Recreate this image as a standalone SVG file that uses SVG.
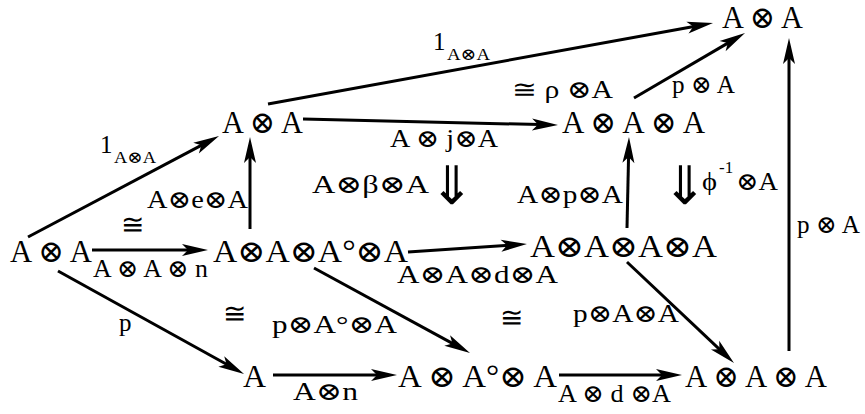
<svg xmlns="http://www.w3.org/2000/svg" width="865" height="414" viewBox="0 0 865 414">
  <style>
    text { font-family: "Liberation Serif", "DejaVu Serif", serif; fill: #000; }
    .obj { font-size: 31px; }
    .lbl { font-size: 25px; }
    .sub { font-size: 17px; }
    .iso { font-size: 28px; font-family: "DejaVu Serif", serif; text-anchor: middle; }
    .cell { font-size: 53px; font-family: "DejaVu Sans", sans-serif; text-anchor: middle; }
    .edge { fill: none; stroke: #000; stroke-width: 3; marker-end: url(#head); }
  </style>
  <defs>
    <marker id="head" markerUnits="userSpaceOnUse" markerWidth="30" markerHeight="16" refX="0" refY="0" orient="auto" overflow="visible">
      <path d="M18,0 L-8,-6 L-2,0 L-8,6 Z" fill="#000"/>
    </marker>
  </defs>

  <!-- connectors -->
  <g id="connectors">
    <path class="edge" d="M268,104 L695.3,26.2"/>
    <path class="edge" d="M303,119 L540,124.6"/>
    <path class="edge" d="M634,98 L729.5,42.1"/>
    <path class="edge" d="M789,351 L789,56"/>
    <path class="edge" d="M28,237 L203.1,144.4"/>
    <path class="edge" d="M250,229 L250,155"/>
    <path class="edge" d="M92,250 L190,250"/>
    <path class="edge" d="M58,271 L228.3,365.3"/>
    <path class="edge" d="M273,375 L379,375"/>
    <path class="edge" d="M408,252 L509,245.2"/>
    <path class="edge" d="M314,268 L454.2,344.4"/>
    <path class="edge" d="M627,228 L628.6,155"/>
    <path class="edge" d="M627,262 L720.9,350.6"/>
    <path class="edge" d="M559,375 L664,375"/>
  </g>

  <!-- objects -->
  <g id="n-top"><text class="obj" x="722" y="28" textLength="81" lengthAdjust="spacingAndGlyphs">A ⊗ A</text></g>
  <g id="n-aa-upper"><text class="obj" x="222" y="133" textLength="81" lengthAdjust="spacingAndGlyphs">A ⊗ A</text></g>
  <g id="n-aaa-upper"><text class="obj" x="562" y="133" textLength="143" lengthAdjust="spacingAndGlyphs">A ⊗ A ⊗ A</text></g>
  <g id="n-aa-left"><text class="obj" x="10" y="262" textLength="82" lengthAdjust="spacingAndGlyphs">A ⊗ A</text></g>
  <g id="n-aaoa"><text class="obj" x="213" y="262" textLength="195" lengthAdjust="spacingAndGlyphs">A⊗A⊗A°⊗A</text></g>
  <g id="n-aaaa"><text class="obj" x="530" y="257" textLength="187" lengthAdjust="spacingAndGlyphs">A⊗A⊗A⊗A</text></g>
  <g id="n-a"><text class="obj" x="243" y="387" textLength="23" lengthAdjust="spacingAndGlyphs">A</text></g>
  <g id="n-aoa"><text class="obj" x="398" y="387" textLength="159" lengthAdjust="spacingAndGlyphs">A ⊗ A°⊗ A</text></g>
  <g id="n-aaa-lower"><text class="obj" x="685" y="387" textLength="142" lengthAdjust="spacingAndGlyphs">A ⊗ A ⊗ A</text></g>

  <!-- arrow labels -->
  <g id="labels">
    <text class="lbl" x="433" y="50" font-size="26">1</text>
    <text class="sub" x="447" y="60" textLength="43" lengthAdjust="spacingAndGlyphs">A⊗A</text>
    <text class="lbl" x="100" y="153" font-size="26">1</text>
    <text class="sub" x="114" y="163" textLength="42" lengthAdjust="spacingAndGlyphs">A⊗A</text>
    <text class="lbl" x="390" y="147" textLength="108" lengthAdjust="spacingAndGlyphs">A ⊗ j⊗A</text>
    <text class="lbl" x="147" y="208" textLength="101" lengthAdjust="spacingAndGlyphs">A⊗e⊗A</text>
    <text class="lbl" x="93" y="277" textLength="115" lengthAdjust="spacingAndGlyphs">A ⊗ A ⊗ n</text>
    <text class="lbl" x="512" y="98" font-size="27" textLength="101" lengthAdjust="spacingAndGlyphs">≅ ρ ⊗A</text>
    <text class="lbl" x="672" y="93" textLength="63" lengthAdjust="spacingAndGlyphs">p ⊗ A</text>
    <text class="lbl" x="517" y="203" textLength="106" lengthAdjust="spacingAndGlyphs">A⊗p⊗A</text>
    <text class="lbl" x="797" y="233" textLength="63" lengthAdjust="spacingAndGlyphs">p ⊗ A</text>
    <text class="lbl" x="397" y="283" textLength="161" lengthAdjust="spacingAndGlyphs">A⊗A⊗d⊗A</text>
    <text class="lbl" x="119" y="331" font-size="27">p</text>
    <text class="lbl" x="272" y="333" textLength="125" lengthAdjust="spacingAndGlyphs">p⊗A°⊗A</text>
    <text class="lbl" x="573" y="322" textLength="106" lengthAdjust="spacingAndGlyphs">p⊗A⊗A</text>
    <text class="lbl" x="293" y="400" font-size="26" textLength="65" lengthAdjust="spacingAndGlyphs">A⊗n</text>
    <text class="lbl" x="558" y="402" textLength="113" lengthAdjust="spacingAndGlyphs">A ⊗ d ⊗A</text>
    <!-- isomorphism marks -->
    <text class="iso" x="132" y="234">≅</text>
    <text class="iso" x="234" y="323">≅</text>
    <text class="iso" x="511" y="327">≅</text>
  </g>

  <!-- 2-cells -->
  <g id="cell-beta">
    <text class="lbl" x="312" y="193" font-size="28" textLength="117" lengthAdjust="spacingAndGlyphs">A⊗β⊗A</text>
    <text class="cell" x="452" y="204">⇓</text>
  </g>
  <g id="cell-phi">
    <text class="cell" x="685" y="204">⇓</text>
    <text class="lbl" x="702" y="190" font-size="26" textLength="15" lengthAdjust="spacingAndGlyphs">ϕ</text>
    <text class="sub" x="719" y="173" font-size="18">-1</text>
    <text class="lbl" x="736" y="190" font-size="24" textLength="42" lengthAdjust="spacingAndGlyphs">⊗A</text>
  </g>
</svg>
